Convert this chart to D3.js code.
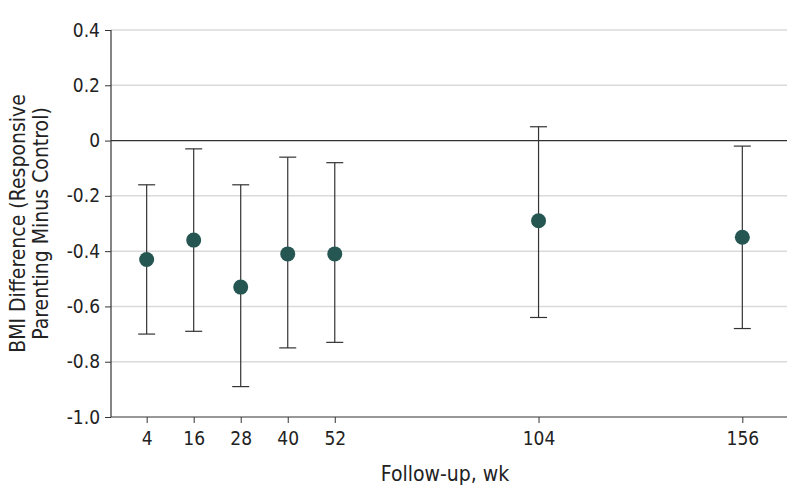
<!DOCTYPE html>
<html>
<head>
<meta charset="utf-8">
<script src="https://cdn.jsdelivr.net/npm/d3@7"></script>
<style>
  body { margin: 0; background: #fff; }
  text { font-family: "DejaVu Sans Condensed", "DejaVu Sans", sans-serif; fill: #222; }
</style>
</head>
<body>
<svg id="chart" width="798" height="501"></svg>
<script>
// follow-up weeks and BMI differences (estimate with 95% CI)
var weeks = [4, 16, 28, 40, 52, 104, 156];
var estimate = [-0.43, -0.36, -0.53, -0.41, -0.41, -0.29, -0.35];
var lower = [-0.70, -0.69, -0.89, -0.75, -0.73, -0.64, -0.68];
var upper = [-0.16, -0.03, -0.16, -0.06, -0.08, 0.05, -0.02];
var yTicks = [0.4, 0.2, 0, -0.2, -0.4, -0.6, -0.8, -1.0];
var yTickLabels = ["0.4", "0.2", "0", "-0.2", "-0.4", "-0.6", "-0.8", "-1.0"];

var svg = d3.select("#chart");
var pLeft = 111, pRight = 787, pTop = 30, pBottom = 417;

var x = d3.scaleLinear().domain([-5.1, 167.4]).range([pLeft, pRight]);
var y = d3.scaleLinear().domain([-1.0, 0.4]).range([pBottom, pTop]);

//gridlines
svg.append("g").selectAll("line")
  .data(yTicks.filter(function(d) { return d != 0 && d != -1.0; }))
  .enter().append("line")
  .attr("x1", pLeft).attr("x2", pRight)
  .attr("y1", function(d) { return y(d); }).attr("y2", function(d) { return y(d); })
  .attr("stroke", "#dadada").attr("stroke-width", 1.5);

//zero line
svg.append("line")
  .attr("x1", pLeft).attr("x2", pRight)
  .attr("y1", y(0)).attr("y2", y(0))
  .attr("stroke", "#333").attr("stroke-width", 1.2);

//y axis
var yAxis = svg.append("g").attr("transform", "translate(" + pLeft + ",0)")
  .call(d3.axisLeft(y).tickValues(yTicks).tickSize(6).tickPadding(5)
    .tickFormat(function(d, i) { return yTickLabels[i]; }));
yAxis.select(".domain").attr("stroke", "#333").attr("stroke-width", 1.2).attr("d", "M0," + pTop + "V" + pBottom);
yAxis.selectAll(".tick line").attr("stroke", "#333");
yAxis.selectAll("text").style("font-size", "19px").attr("fill", "#222");

//x axis
var xAxis = svg.append("g").attr("transform", "translate(0," + pBottom + ")")
  .call(d3.axisBottom(x).tickValues(weeks).tickSize(6).tickPadding(9).tickFormat(d3.format("d")));
xAxis.select(".domain").attr("stroke", "#333").attr("stroke-width", 1.2).attr("d", "M" + pLeft + ",0H" + pRight);
xAxis.selectAll(".tick line").attr("stroke", "#333");
xAxis.selectAll("text").style("font-size", "19px").attr("fill", "#222");

//error bars
var bars = svg.append("g");
weeks.forEach(function(w, i) {
  bars.append("line")
    .attr("x1", x(w)).attr("x2", x(w))
    .attr("y1", y(upper[i])).attr("y2", y(lower[i]))
    .attr("stroke", "#333").attr("stroke-width", 1.2);
  [upper[i], lower[i]].forEach(function(v) {
    bars.append("line")
      .attr("x1", x(w) - 8.5).attr("x2", x(w) + 8.5)
      .attr("y1", y(v)).attr("y2", y(v))
      .attr("stroke", "#333").attr("stroke-width", 1.2);
  });
});

//points
svg.append("g").selectAll("circle")
  .data(weeks)
  .enter().append("circle")
  .attr("cx", function(d) { return x(d); })
  .attr("cy", function(d, i) { return y(estimate[i]); })
  .attr("r", 7.5)
  .attr("fill", "#255652");

//axis titles
svg.append("text")
  .attr("x", 445).attr("y", 481)
  .attr("text-anchor", "middle").style("font-size", "21px")
  .text("Follow-up, wk");

var yTitle = svg.append("text")
  .attr("transform", "translate(0," + ((pTop + pBottom) / 2) + ") rotate(-90)")
  .attr("text-anchor", "middle").style("font-size", "21px");
yTitle.append("tspan").attr("x", 0).attr("y", 25).text("BMI Difference (Responsive");
yTitle.append("tspan").attr("x", 0).attr("y", 48).text("Parenting Minus Control)");
</script>
</body>
</html>
